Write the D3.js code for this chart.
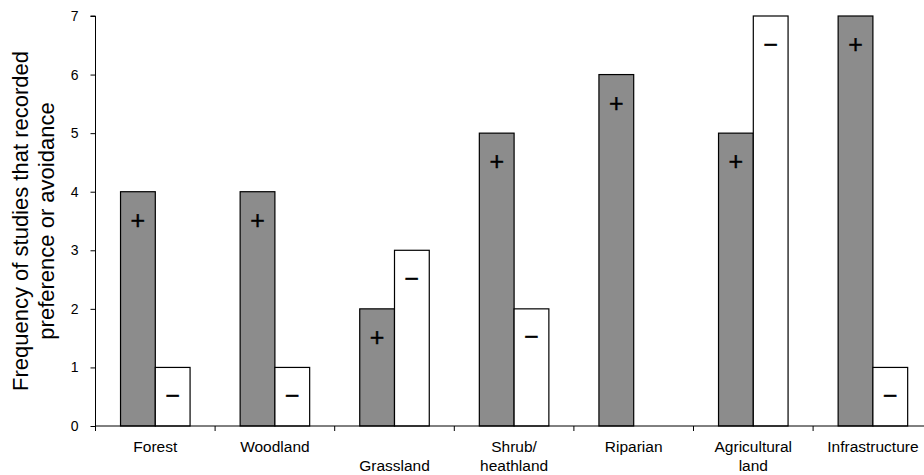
<!DOCTYPE html>
<html><head><meta charset="utf-8">
<script src="https://cdn.jsdelivr.net/npm/d3@7"></script>
<style>body{margin:0;background:#fff}svg{display:block}text{font-family:Arial,"Liberation Sans",sans-serif;fill:#000}</style>
</head><body>
<svg id="c" width="924" height="475"></svg>
<script>
const categories = ["Forest","Woodland","Grassland","Shrub/\nheathland","Riparian","Agricultural\nland","Infrastructure"];
const labelLine = [0,0,1,0,0,0,0]; // starting line offset for staggered labels
const preference = [4,4,2,5,6,5,7];
const avoidance = [1,1,3,2,0,7,1];
const yTicks = [0,1,2,3,4,5,6,7];
const yTitle = ["Frequency of studies that recorded","preference or avoidance"];

const svg = d3.select("#c");
const x0 = 95.5, yBase = 426, yTop = 16;
const x = d3.scaleBand().domain(categories).range([x0, x0 + 7*119.6]).padding(0);
const sub = d3.scaleBand().domain(["pos","neg"]).range([0, x.bandwidth()]).paddingInner(0).paddingOuter(0.72);
const y = d3.scaleLinear().domain([0,7]).range([yBase, yTop]);

const rows = categories.map((c,i)=>({c, pos: preference[i], neg: avoidance[i]}));

const g = svg.append("g");
rows.forEach(r=>{
  if (r.pos > 0) g.append("rect").attr("x", x(r.c)+sub("pos")).attr("y", y(r.pos))
    .attr("width", sub.bandwidth()).attr("height", y(0)-y(r.pos))
    .attr("fill","#8c8c8c").attr("stroke","#000").attr("stroke-width",1.2);
  if (r.neg > 0) g.append("rect").attr("x", x(r.c)+sub("neg")).attr("y", y(r.neg))
    .attr("width", sub.bandwidth()).attr("height", y(0)-y(r.neg))
    .attr("fill","#fff").attr("stroke","#000").attr("stroke-width",1.2);
  if (r.pos > 0) g.append("text").attr("x", x(r.c)+sub("pos")+sub.bandwidth()/2).attr("y", y(r.pos-0.48))
    .attr("text-anchor","middle").attr("dominant-baseline","central").style("font-size","25px")
    .attr("stroke","#000").attr("stroke-width",0.4).text("+");
  if (r.neg > 0) g.append("text").attr("x", x(r.c)+sub("neg")+sub.bandwidth()/2).attr("y", y(r.neg-0.47))
    .attr("text-anchor","middle").attr("dominant-baseline","central").style("font-size","25px")
    .attr("stroke","#000").attr("stroke-width",0.4).text("\u2212");
});

// Y axis
const ya = svg.append("g").attr("transform",`translate(${x0},0)`)
  .call(d3.axisLeft(y).tickValues(yTicks).tickFormat(d3.format("d")).tickSize(5).tickPadding(12));
ya.select(".domain").attr("stroke","#000").attr("d",`M-5,${y(7)}H0V${y(0)}`);
ya.selectAll(".tick line").attr("stroke","#000");
ya.selectAll(".tick text").style("font-size","14px").style("font-family","Arial, 'Liberation Sans', sans-serif");

// X axis
const xa = svg.append("g").attr("transform",`translate(0,${yBase})`);
xa.append("line").attr("x1",x0).attr("x2",924).attr("y1",0).attr("y2",0).attr("stroke","#000");
categories.forEach(c=>{
  xa.append("line").attr("x1",x(c)).attr("x2",x(c)).attr("y1",0).attr("y2",5).attr("stroke","#000");
});
categories.forEach((c,i)=>{
  const lines = c.split("\n");
  const t = xa.append("text").attr("text-anchor","middle").style("font-size","15.5px");
  lines.forEach((l,j)=>{
    t.append("tspan").attr("x", x(c)+x.bandwidth()/2).attr("y", 26 + (labelLine[i]+j)*18.5).text(l);
  });
});

// Y title
const tt = svg.append("text").attr("transform",`translate(0,221) rotate(-90)`).attr("text-anchor","middle").style("font-size","22px");
yTitle.forEach((l,j)=>tt.append("tspan").attr("x",0).attr("y", 28 + j*26).text(l));
</script>
</body></html>
